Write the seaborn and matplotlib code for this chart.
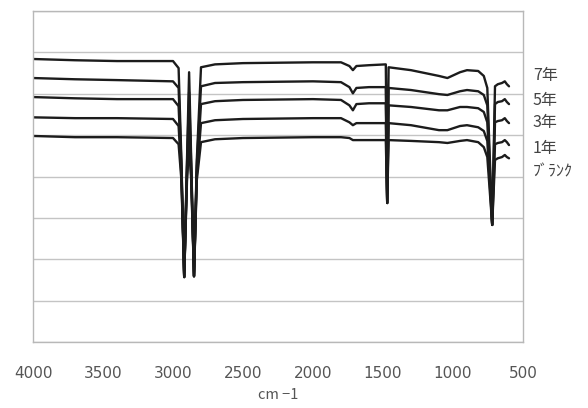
import matplotlib
matplotlib.use("Agg")
import matplotlib.pyplot as plt
import seaborn as sns
import pandas as pd

# wavenumbers (cm-1), shared by every spectrum
wavenumber = [4000, 3700, 3400, 3000, 2960, 2940, 2920, 2900, 2885, 2870, 2850, 2830, 2800,
              2700, 2500, 2000, 1800, 1740, 1715, 1690, 1600, 1480, 1470, 1460,
              1300, 1100, 1040, 950, 900, 820, 780, 755, 720, 700, 680, 650, 630, 615, 600]

# stacked spectra (arbitrary offset units)
year7 = [68.4, 68.1, 67.9, 67.9, 66.2, 44.0, 15.7, 44.0, 65.2, 44.0, 15.9, 44.0, 66.4,
         67.1, 67.4, 67.6, 67.6, 66.7, 65.7, 66.7, 66.9, 67.1, 33.6, 66.4,
         65.7, 64.3, 63.8, 65.2, 65.7, 65.5, 64.3, 61.4, 28.3, 61.8, 62.3, 62.6, 63.0, 62.3, 61.8]
year5 = [63.8, 63.5, 63.3, 63.0, 61.4, 42.8, 15.7, 42.8, 60.4, 42.8, 15.9, 42.8, 61.8,
         62.6, 62.8, 63.0, 62.8, 61.6, 60.1, 61.4, 61.6, 61.6, 33.6, 61.4,
         60.9, 59.9, 59.7, 60.6, 60.9, 60.6, 59.7, 57.2, 28.3, 57.5, 58.0, 58.2, 58.7, 58.0, 57.5]
year3 = [59.2, 58.9, 58.7, 58.7, 57.0, 41.5, 15.7, 41.5, 56.0, 41.5, 15.9, 41.5, 57.5,
         58.2, 58.5, 58.7, 58.5, 57.2, 56.0, 57.5, 57.7, 57.7, 33.6, 57.2,
         56.8, 56.0, 56.0, 56.8, 56.8, 56.5, 55.6, 53.1, 28.3, 53.1, 53.4, 53.6, 54.1, 53.4, 52.9]
year1 = [54.3, 54.1, 54.1, 53.9, 52.2, 40.3, 15.7, 40.3, 51.7, 40.3, 15.9, 40.3, 52.9,
         53.6, 53.9, 54.1, 54.1, 53.1, 52.4, 52.9, 52.9, 52.9, 33.6, 52.9,
         52.4, 51.2, 51.2, 52.2, 52.4, 51.9, 51.0, 48.6, 28.3, 47.8, 48.1, 48.3, 48.8, 48.3, 47.6]
blank = [49.8, 49.5, 49.5, 49.3, 47.8, 39.1, 15.7, 39.1, 47.3, 39.1, 15.9, 39.1, 48.3,
         49.0, 49.3, 49.5, 49.5, 49.3, 48.8, 48.8, 48.8, 48.8, 33.6, 48.8,
         48.6, 48.3, 48.1, 48.6, 48.8, 48.3, 47.1, 44.7, 28.3, 44.0, 44.4, 44.7, 45.2, 44.7, 44.4]

series_names = ["7年", "5年", "3年", "1年", "ﾌﾞﾗﾝｸ"]
series_values = [year7, year5, year3, year1, blank]
x_ticks = [4000, 3500, 3000, 2500, 2000, 1500, 1000, 500]

frames = []
for name, vals in zip(series_names, series_values):
    frames.append(pd.DataFrame({"wn": wavenumber, "value": vals, "sample": name}))
df = pd.concat(frames, ignore_index=True)

sns.set_style("white")
plt.rcParams['font.family'] = ['Noto Sans CJK JP', 'DejaVu Sans']

fig = plt.figure(figsize=(5.88, 4.08), dpi=100)
ax = fig.add_axes([33 / 588, 66 / 408, 490 / 588, 331 / 408])

sns.lineplot(data=df, x="wn", y="value", units="sample", estimator=None, sort=False,
             color="#1c1c1c", linewidth=1.7, ax=ax)

ax.set_xlim(4000, 500)
ax.set_ylim(0, 80)
ax.set_xticks(x_ticks)
ax.set_yticks(range(0, 81, 10))
ax.set_yticklabels([])
ax.grid(axis="y", color="#c4c4c4", linewidth=1)
ax.grid(axis="x", visible=False)
for sp in ax.spines.values():
    sp.set_color("#b8b8b8")
    sp.set_linewidth(1)
ax.tick_params(axis="x", direction="in", length=3, color="#b8b8b8",
               labelsize=11, labelcolor="#555555", pad=17)
for lbl in ax.get_xticklabels():
    lbl.set_family(['DejaVu Sans'])
ax.tick_params(axis="y", length=0)
ax.set_xlabel("cm −1", fontsize=10.5, color="#555555", labelpad=5)
ax.set_ylabel("")

# series names to the right of the plot
label_y = [0.804, 0.731, 0.662, 0.586, 0.514]
for name, yy in zip(series_names, label_y):
    ax.text(1.02, yy, name, transform=ax.transAxes, fontsize=11.5,
            color="#444444", va="center", ha="left")

fig.savefig("out.png", dpi=100)
